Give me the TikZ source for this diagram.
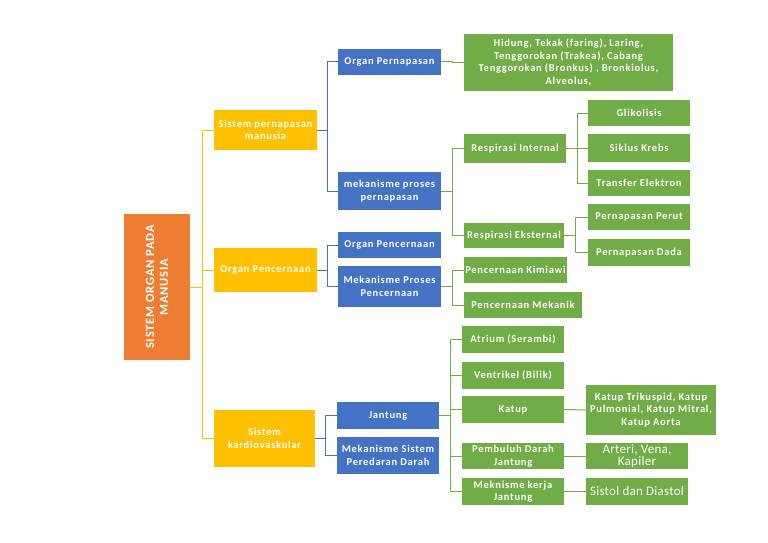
\documentclass[tikz,border=0pt]{standalone}
\usepackage{fontspec}
\setmainfont{Carlito}[LetterSpace=7]
\definecolor{orgroot}{HTML}{ED7D31}
\definecolor{orgyel}{HTML}{FFC000}
\definecolor{orgblue}{HTML}{4472C4}
\definecolor{orggreen}{HTML}{70AD47}
\tikzset{
  box/.style={draw=none,rectangle,text=white,align=center,inner sep=1pt,
    font=\fontsize{10.5}{12.5}\selectfont\bfseries},
  link/.style={line width=1pt},
}
\begin{document}
\begin{tikzpicture}[x=1pt,y=-1pt]
      \useasboundingbox (0,0) rectangle (768,543);
      \def \Yellow{
        sp/265.5/130/103/40/{Sistem pernapasan\\manusia},
        op/265.5/270/103/44/{Organ Pencernaan},
        sk/264.5/438.5/101/57/{Sistem\\kardiovaskular}}
      \def \Blue{
        orgp/389.5/62/103/26/{Organ Pernapasan},
        mekp/389.5/191/103/38/{mekanisme proses\\pernapasan},
        orgc/389.5/245/103/26/{Organ Pencernaan},
        mekc/389.5/286.5/103/41/{Mekanisme Proses\\Pencernaan},
        jan/388/415.5/102/27/{Jantung},
        mekd/388/455.5/102/37/{Mekanisme Sistem\\Peredaran Darah}}
      \def \Green{
        hid/568.5/62.5/209/57/{Hidung, Tekak (faring), Laring,\\Tenggorokan (Trakea), Cabang\\Tenggorokan (Bronkus) , Bronkiolus,\\Alveolus,},
        ri/515/148.5/102/29/{Respirasi Internal},
        re/514/235.5/100/25/{Respirasi Eksternal},
        gli/639/113/102/26/{Glikolisis},
        skr/639/148/102/28/{Siklus Krebs},
        tre/639/183/102/26/{Transfer Elektron},
        pper/639/217/102/26/{Pernapasan Perut},
        pdad/639/252.5/102/27/{Pernapasan Dada},
        pkim/515.5/270/103/26/{Pencernaan Kimiawi},
        pmek/523/305/118/26/{Pencernaan Mekanik},
        atr/513/339.5/102/27/{Atrium (Serambi)},
        ven/513/375.5/102/27/{Ventrikel (Bilik)},
        kat/513/409.5/102/27/{Katup},
        ktr/651/410/130/50/{Katup Trikuspid, Katup\\Pulmonial, Katup Mitral,\\Katup Aorta},
        pem/513/456/102/26/{Pembuluh Darah\\Jantung},
        mkj/513/491.5/102/27/{Meknisme kerja\\Jantung}}
      % root of the map
      \node[box,fill=orgroot,minimum width=66,minimum height=146] (root) at (157,287) {};
      \node[rotate=90,text=white,align=center,font=\fontsize{12.5}{14}\selectfont\bfseries] at (root) {SISTEM ORGAN PADA\\MANUSIA};
      \foreach \id / \x / \y / \w / \h / \t in \Yellow{
        \node[box,fill=orgyel,minimum width=\w,minimum height=\h] (\id) at (\x, \y) {\t};
      }
      \foreach \id / \x / \y / \w / \h / \t in \Blue{
        \node[box,fill=orgblue,minimum width=\w,minimum height=\h] (\id) at (\x, \y) {\t};
      }
      \foreach \id / \x / \y / \w / \h / \t in \Green{
        \node[box,fill=orggreen,minimum width=\w,minimum height=\h] (\id) at (\x, \y) {\t};
      }
      \node[box,fill=orggreen,minimum width=102,minimum height=26,
        font=\addfontfeature{LetterSpace=2}\fontsize{13}{12.5}\selectfont] (art) at (637,456) {Arteri, Vena,\\Kapiler};
      \node[box,fill=orggreen,minimum width=102,minimum height=27,
        font=\addfontfeature{LetterSpace=2}\fontsize{13}{13}\selectfont] (sis) at (637,491.5) {Sistol dan Diastol};
      % connectors
      \foreach \y in {sp,op,sk}{
        \path[draw,link,orgyel] (root.east) -- ++(12,0) |- (\y.west);
      }
      \foreach \x / \y in {sp/orgp,sp/mekp,op/orgc,op/mekc,sk/jan,sk/mekd}{
        \path[draw,link,orgblue] (\x.east) -- ++(10,0) |- (\y.west);
      }
      \foreach \x / \y in {
        orgp/hid,
        mekp/ri,
        mekp/re,
        ri/gli,
        ri/skr,
        ri/tre,
        re/pper,
        re/pdad,
        mekc/pkim,
        mekc/pmek,
        jan/atr,
        jan/ven,
        jan/kat,
        jan/pem,
        jan/mkj}{
        \path[draw,link,orggreen] (\x.east) -- ++(11,0) |- (\y.west);
      }
      \foreach \x / \y in {kat/ktr,pem/art,mkj/sis}{
        \path[draw,link,orggreen] (\x.east) -- (\y.west);
      }
    \end{tikzpicture}
\end{document}
